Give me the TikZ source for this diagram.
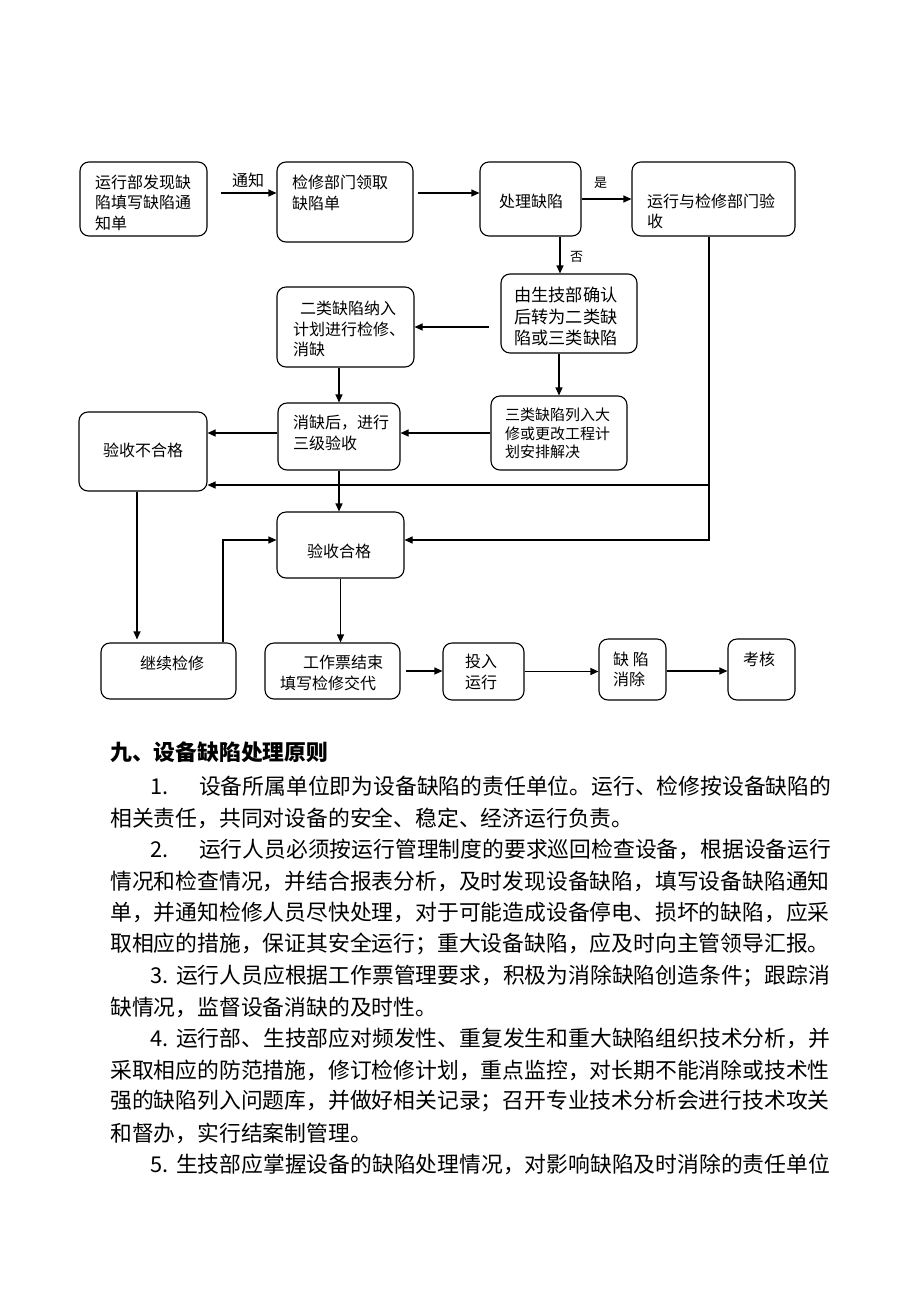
\documentclass[tikz,border=0pt]{standalone}
\usepackage{fontspec}
\setmainfont{Noto Sans CJK SC}
\usetikzlibrary{arrows.meta}
\tikzset{
  box/.style={draw, rounded corners=9pt, line width=1.1pt, inner sep=0pt},
  lbl/.style={anchor=west, inner sep=0pt, align=left, font=\fontsize{16}{20.5}\selectfont},
  wide/.style={anchor=west, inner sep=0pt, align=left, font=\fontsize{17.2}{21.5}\selectfont},
  sml/.style={anchor=west, inner sep=0pt, align=left, font=\fontsize{15}{18.5}\selectfont},
  tag/.style={anchor=west, inner sep=0pt, font=\fontsize{13}{15}\selectfont},
  arr/.style={-{Triangle[length=8pt,width=7pt]}, line width=1.1pt},
  body/.style={anchor=west, inner sep=0pt, font=\fontsize{21.8}{31.5}\selectfont},
  head/.style={anchor=west, inner sep=0pt, font=\fontsize{21.8}{31.5}\selectfont\bfseries},
}
\begin{document}
\begin{tikzpicture}[x=1pt,y=-1pt]
\useasboundingbox (0,0) rectangle (920,1302);
% boxes
\node[box, minimum width=127pt, minimum height=74pt] (A) at (143.5,199) {};
\node[box, minimum width=136pt, minimum height=80pt] (B) at (345,202) {};
\node[box, minimum width=101pt, minimum height=74pt] (C) at (530.5,199) {};
\node[box, minimum width=163pt, minimum height=74pt] (D) at (713.5,199) {};
\node[box, minimum width=136pt, minimum height=79pt] (E) at (569,313.5) {};
\node[box, minimum width=137pt, minimum height=80pt] (F) at (345.5,327) {};
\node[box, minimum width=136pt, minimum height=74pt] (G) at (559,433) {};
\node[box, minimum width=122pt, minimum height=67pt] (H) at (339,436.5) {};
\node[box, minimum width=128pt, minimum height=79pt] (I) at (143,451.5) {};
\node[box, minimum width=127pt, minimum height=66pt] (J) at (340.5,545) {};
\node[box, minimum width=135pt, minimum height=56pt] (K) at (168.5,671) {};
\node[box, minimum width=135pt, minimum height=56pt] (L) at (332.5,671) {};
\node[box, minimum width=81pt, minimum height=57pt] (M) at (483.5,671.5) {};
\node[box, minimum width=67pt, minimum height=61pt] (N) at (632.5,669.5) {};
\node[box, minimum width=67pt, minimum height=61pt] (O) at (761.5,669.5) {};
% box texts
\node[lbl] (tA) at (95,202.5) {运行部发现缺\\陷填写缺陷通\\知单};
\node[lbl] (tB) at (292,193) {检修部门领取\\缺陷单};
\node[lbl] (tC) at (499,201) {处理缺陷};
\node[lbl] (tD) at (647,211.5) {运行与检修部门验\\收};
\node[wide] (tE) at (514,316.5) {由生技部确认\\后转为二类缺\\陷或三类缺陷};
\node[lbl] (tF) at (293,329) {\hspace{7pt}二类缺陷纳入\\计划进行检修、\\消缺};
\node[sml] (tG) at (505,433.5) {三类缺陷列入大\\修或更改工程计\\划安排解决};
\node[lbl] (tH) at (293,433) {消缺后，进行\\三级验收};
\node[lbl] (tI) at (103,450) {验收不合格};
\node[lbl] (tJ) at (307,551) {验收合格};
\node[lbl] (tK) at (140,663) {继续检修};
\node[lbl] (tL) at (280,673) {\hspace{23pt}工作票结束\\填写检修交代};
\node[lbl] (tM) at (465,672) {投入\\运行};
\node[lbl] (tN) at (613,669.5) {缺 陷\\消除};
\node[lbl] (tO) at (743,659) {考核};
\node[lbl] (l1) at (232,180) {通知};
\node[tag] (l2) at (594,183) {是};
\node[tag] (l3) at (570,257) {否};
% connectors
\draw[arr, shorten <=13pt] ([yshift=6pt]A.east) -- ([yshift=9pt]B.west);
\draw[arr, shorten <=4pt] ([yshift=9pt]B.east) -- ([yshift=6pt]C.west);
\draw[arr] (C.east) -- (D.west);
\draw[arr] ([xshift=29.5pt]C.south) -- ([xshift=-9pt]E.north);
\draw[arr] ([xshift=-4.5pt]D.south) |- ([yshift=5pt]J.east);
\coordinate (br) at ([xshift=-4.5pt]D.south |- 0,485);
\draw[arr] (br) -- (I.east |- br);
\draw[arr, shorten <=11pt] (E.west |- F.east) -- (F.east);
\draw[arr] (E.south -| G.north) -- (G.north);
\draw[arr] (F.south -| H.north) -- (H.north);
\draw[arr] (G.west) -- (G.west -| H.east);
\draw[arr] (H.west |- G.west) -- (I.east |- G.west);
\draw[arr] (H.south) -- (H.south |- J.north);
\draw[arr] ([xshift=-6pt]I.south) -- ([xshift=-6pt,yshift=3pt]I.south |- K.north);
\draw[arr] ([xshift=54.5pt]K.north) |- ([yshift=5pt]J.west);
\draw[arr] (J.south) -- (J.south |- L.north);
\draw[arr, shorten <=5pt] (L.east) -- (L.east -| M.west);
\draw[arr] (M.east) -- (M.east -| N.west);
\draw[arr] ([yshift=-1.5pt]N.east) -- ([yshift=-1.5pt]O.west);
% body text
\node[head] (h0) at (110,752) {九、设备缺陷处理原则};
\node[body] (b1) at (150,786) {\makebox[49pt][l]{1.}设备所属单位即为设备缺陷的责任单位。运行、检修按设备缺陷的};
\node[body] (b2) at (110,818) {相关责任，共同对设备的安全、稳定、经济运行负责。};
\node[body] (b3) at (150,849.5) {\makebox[49pt][l]{2.}运行人员必须按运行管理制度的要求巡回检查设备，根据设备运行};
\node[body] (b4) at (110,881) {情况和检查情况，并结合报表分析，及时发现设备缺陷，填写设备缺陷通知};
\node[body] (b5) at (110,912.5) {单，并通知检修人员尽快处理，对于可能造成设备停电、损坏的缺陷，应采};
\node[body] (b6) at (110,944) {取相应的措施，保证其安全运行；重大设备缺陷，应及时向主管领导汇报。};
\node[body] (b7) at (150,975.5) {\makebox[26pt][l]{3.}运行人员应根据工作票管理要求，积极为消除缺陷创造条件；跟踪消};
\node[body] (b8) at (110,1007) {缺情况，监督设备消缺的及时性。};
\node[body] (b9) at (150,1038.5) {\makebox[26pt][l]{4.}运行部、生技部应对频发性、重复发生和重大缺陷组织技术分析，并};
\node[body] (b10) at (110,1070) {采取相应的防范措施，修订检修计划，重点监控，对长期不能消除或技术性};
\node[body] (b11) at (110,1101.5) {强的缺陷列入问题库，并做好相关记录；召开专业技术分析会进行技术攻关};
\node[body] (b12) at (110,1133) {和督办，实行结案制管理。};
\node[body] (b13) at (150,1164.5) {\makebox[26pt][l]{5.}生技部应掌握设备的缺陷处理情况，对影响缺陷及时消除的责任单位};
\end{tikzpicture}
\end{document}
